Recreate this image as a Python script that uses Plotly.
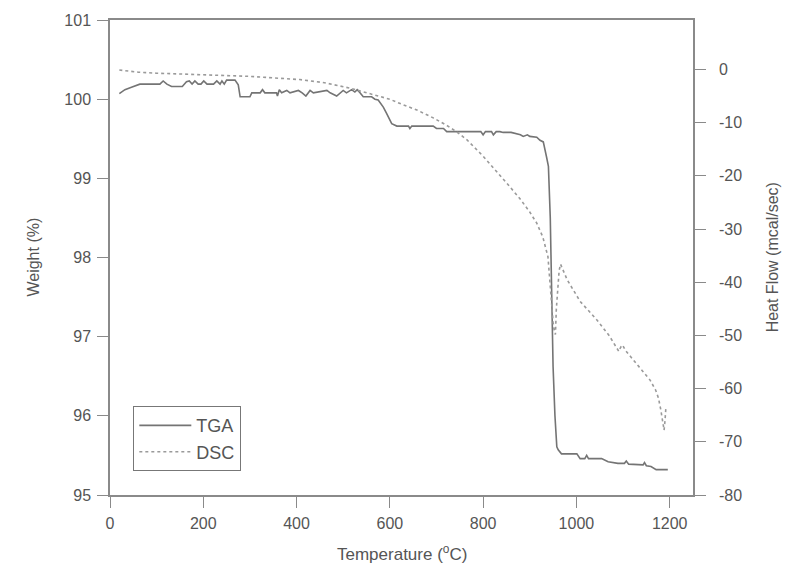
import plotly.graph_objects as go

# TGA: temperature (°C) and weight (%)
tga_temp = [20, 32, 46, 64, 107, 114, 122, 132, 155, 164, 170, 176, 182, 189, 195, 201, 208, 222,
            229, 236, 240, 245, 250, 268, 275, 279, 300, 304, 322, 327, 332, 357, 359, 363, 368,
            379, 386, 404, 412, 420, 429, 436, 465, 472, 486, 493, 500, 507, 518, 525, 530, 536,
            543, 561, 568, 575, 586, 593, 600, 604, 615, 640, 643, 647, 693, 700, 715, 722, 795,
            800, 805, 818, 822, 828, 836, 843, 860, 880, 886, 895, 900, 915, 922, 929, 936, 940,
            944, 947, 950, 954, 958, 961, 968, 1001, 1008, 1018, 1022, 1026, 1054, 1068, 1089,
            1103, 1107, 1112, 1136, 1143, 1146, 1150, 1160, 1171, 1196]
tga_weight = [100.07, 100.12, 100.15, 100.19, 100.19, 100.23, 100.19, 100.16, 100.16, 100.22,
              100.23, 100.19, 100.23, 100.19, 100.19, 100.23, 100.19, 100.19, 100.23, 100.19,
              100.23, 100.19, 100.24, 100.24, 100.18, 100.03, 100.03, 100.08, 100.08, 100.12,
              100.08, 100.08, 100.04, 100.12, 100.08, 100.11, 100.08, 100.11, 100.08, 100.04,
              100.11, 100.08, 100.11, 100.08, 100.04, 100.08, 100.11, 100.08, 100.12, 100.09,
              100.12, 100.08, 100.03, 100.03, 100.00, 99.99, 99.90, 99.82, 99.74, 99.69, 99.66,
              99.66, 99.63, 99.66, 99.66, 99.63, 99.63, 99.59, 99.59, 99.55, 99.59, 99.59, 99.55,
              99.59, 99.59, 99.58, 99.58, 99.55, 99.53, 99.55, 99.53, 99.52, 99.48, 99.46, 99.27,
              99.15, 98.50, 97.46, 96.62, 96.00, 95.61, 95.57, 95.52, 95.52, 95.46, 95.46, 95.50,
              95.46, 95.46, 95.42, 95.40, 95.40, 95.43, 95.39, 95.38, 95.38, 95.41, 95.37, 95.36,
              95.32, 95.32]

# DSC: temperature (°C) and heat flow (mcal/sec)
dsc_temp = [20, 60, 100, 193, 300, 407, 460, 514, 560, 600, 622, 660, 693, 720, 743, 765, 800,
            836, 851, 879, 900, 915, 928, 939, 943, 947, 950, 953, 955, 957, 960, 963, 966, 980,
            1008, 1044, 1070, 1091, 1095, 1099, 1105, 1129, 1158, 1170, 1176, 1181, 1185, 1188,
            1190, 1192]
dsc_heat = [-0.1, -0.5, -0.7, -0.94, -1.3, -1.9, -2.5, -3.5, -4.6, -5.6, -6.4, -7.7, -9.1, -10.4,
            -11.7, -13.2, -16.3, -19.8, -21.4, -24.3, -26.8, -28.9, -31.5, -35.2, -40.0, -44.5,
            -47.5, -49.5, -49.8, -45.0, -41.0, -37.8, -36.6, -39.5, -43.6, -47.1, -50.0, -53.0,
            -52.2, -51.8, -52.8, -55.3, -58.4, -60.3, -61.8, -64.0, -66.5, -67.8, -66.0, -63.4]

x_ticks = [0, 200, 400, 600, 800, 1000, 1200]
y_ticks = [95, 96, 97, 98, 99, 100, 101]
y2_ticks = [-80, -70, -60, -50, -40, -30, -20, -10, 0]
y2_labels = ["-80", "-70", "-60", "-50", "-40", "-30", "-20", "-10", "0"]

FONT = "Liberation Sans, Arial, sans-serif"
AX = "#8a8a8a"
TXT = "#555555"

fig = go.Figure()
fig.add_trace(go.Scatter(x=tga_temp, y=tga_weight, mode="lines", name="TGA",
                         line=dict(color="#747474", width=1.6)))
fig.add_trace(go.Scatter(x=dsc_temp, y=dsc_heat, mode="lines", name="DSC", yaxis="y2",
                         line=dict(color="#9a9a9a", width=1.6, dash="dot")))

axis_common = dict(showline=True, linecolor=AX, linewidth=1.5, ticks="outside", ticklen=11,
                   tickcolor=AX, tickwidth=1.2, showgrid=False, zeroline=False,
                   tickfont=dict(family=FONT, size=16, color=TXT))

fig.update_layout(
    width=785, height=568,
    margin=dict(l=110, r=92, t=20, b=73),
    paper_bgcolor="white", plot_bgcolor="white",
    font=dict(family=FONT, color=TXT),
    xaxis=dict(range=[0, 1250], tickvals=x_ticks, mirror=True, ticklabelstandoff=2, **axis_common),
    yaxis=dict(range=[95, 101], tickvals=y_ticks, ticklabelstandoff=3, **axis_common),
    yaxis2=dict(range=[-80, 9.3], tickvals=y2_ticks, ticktext=y2_labels, overlaying="y",
                side="right", ticklabelstandoff=10, **axis_common),
    showlegend=True,
    legend=dict(x=0.04, y=0.187, xanchor="left", yanchor="top", bgcolor="white",
                bordercolor="#777777", borderwidth=1, itemwidth=52,
                font=dict(family=FONT, size=18, color=TXT)),
    annotations=[
        dict(text="Temperature (<sup>o</sup>C)", xref="paper", yref="paper", x=0.5, y=-0.122,
             xanchor="center", yanchor="middle", showarrow=False,
             font=dict(family=FONT, size=17, color=TXT)),
        dict(text="Weight (%)", xref="paper", yref="paper", x=-0.132, y=0.5, textangle=-90,
             xanchor="center", yanchor="middle", showarrow=False,
             font=dict(family=FONT, size=16, color=TXT)),
        dict(text="Heat Flow (mcal/sec)", xref="paper", yref="paper", x=1.137, y=0.5, textangle=-90,
             xanchor="center", yanchor="middle", showarrow=False,
             font=dict(family=FONT, size=16, color=TXT)),
    ],
)

fig.write_html("out.html")
